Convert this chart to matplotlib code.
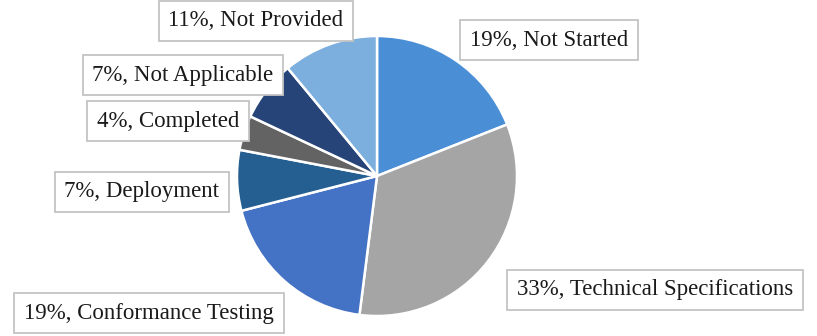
import matplotlib.pyplot as plt

labels = ["Not Started", "Technical Specifications", "Conformance Testing",
          "Deployment", "Completed", "Not Applicable", "Not Provided"]
shares = [19, 33, 19, 7, 4, 7, 11]
colors = ["#4a8fd6", "#a5a5a5", "#4472c4", "#255e91", "#636363", "#264478", "#7cafdd"]

# label box centres (pixel layout, measured from top)
label_pos = [(549, 40), (655, 290), (149, 313), (142, 192),
             (168, 121), (183, 75), (256, 21)]

plt.rcParams["font.family"] = ["Liberation Serif", "DejaVu Serif"]

W, H = 817, 336
fig = plt.figure(figsize=(W / 100, H / 100), dpi=100)
ax = fig.add_axes([0, 0, 1, 1])

ax.pie(shares, colors=colors, startangle=90, counterclock=False,
       center=(377, H - 176), radius=140,
       wedgeprops=dict(edgecolor="white", linewidth=1.8))
ax.set_xlim(0, W)
ax.set_ylim(0, H)
ax.set_aspect("equal")
ax.axis("off")

for lab, val, (x, y) in zip(labels, shares, label_pos):
    ax.text(x, H - y, f"{val}%, {lab}", ha="center", va="center", fontsize=16.5,
            color="#1a1a1a",
            bbox=dict(boxstyle="square,pad=0.42", fc="white", ec="#c4c4c4", lw=1.3))

fig.savefig("out.png", dpi=100)
